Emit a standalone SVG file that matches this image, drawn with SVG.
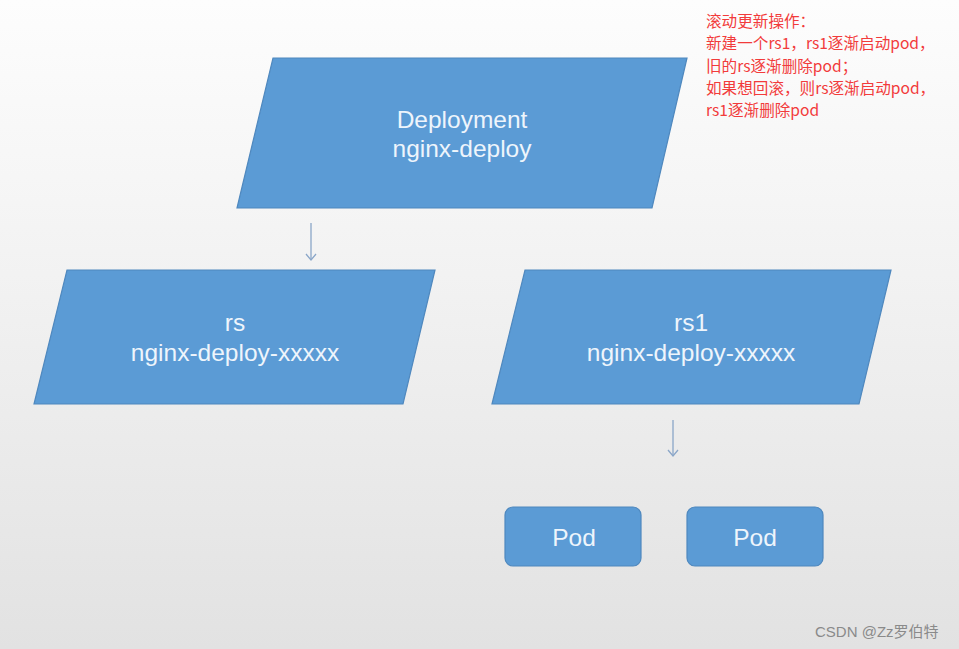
<svg xmlns="http://www.w3.org/2000/svg" width="959" height="649" viewBox="0 0 959 649">
<defs>
<linearGradient id="bg" x1="0" y1="0" x2="0" y2="1">
<stop offset="0" stop-color="#fdfdfd"/>
<stop offset="0.35" stop-color="#f4f4f4"/>
<stop offset="1" stop-color="#e2e2e2"/>
</linearGradient>
<marker id="ah" viewBox="0 0 12 12" refX="10" refY="6" markerWidth="12" markerHeight="12" markerUnits="userSpaceOnUse" orient="auto">
<path d="M4,1 L10,6 L4,11" fill="none" stroke="#8aa6c8" stroke-width="1.3"/>
</marker>
<style>
.shape{fill:#5b9bd5;stroke:#4f88be;stroke-width:1.2}
.lbl{font-family:"Liberation Sans",Arial,sans-serif;font-size:24.5px;fill:#eef5fc;text-anchor:middle}
.conn{stroke:#8aa6c8;stroke-width:1.3;fill:none}
.note{font-family:"Noto Sans CJK SC","Liberation Sans",sans-serif;font-size:15.6px;fill:#f23b3b}
.wm{font-family:"Liberation Sans","Noto Sans CJK SC",sans-serif;font-size:15px;fill:#8a8a8a}
</style>
</defs>
<rect width="959" height="649" fill="url(#bg)"/>
<g id="connectors">
<path class="conn" d="M311,223 L311,260" marker-end="url(#ah)"/>
<path class="conn" d="M673,420 L673,456" marker-end="url(#ah)"/>
</g>
<g id="deployment">
<polygon class="shape" points="273,58 687,58 652,208 237,208"/>
<text class="lbl" x="462" y="128">Deployment</text>
<text class="lbl" x="462" y="157">nginx-deploy</text>
</g>
<g id="rs">
<polygon class="shape" points="67,270 435,270 403,404 34,404"/>
<text class="lbl" x="235" y="331">rs</text>
<text class="lbl" x="235" y="361">nginx-deploy-xxxxx</text>
</g>
<g id="rs1">
<polygon class="shape" points="525,270 891,270 859,404 492,404"/>
<text class="lbl" x="691" y="331">rs1</text>
<text class="lbl" x="691" y="361">nginx-deploy-xxxxx</text>
</g>
<g id="pod1">
<rect class="shape" x="505" y="507" width="136" height="59" rx="8"/>
<text class="lbl" x="574" y="546">Pod</text>
</g>
<g id="pod2">
<rect class="shape" x="687" y="507" width="136" height="59" rx="8"/>
<text class="lbl" x="755" y="546">Pod</text>
</g>
<g id="note">
<text class="note" x="706" y="27">滚动更新操作：</text>
<text class="note" x="706" y="49">新建一个rs1，rs1逐渐启动pod，</text>
<text class="note" x="706" y="72">旧的rs逐渐删除pod；</text>
<text class="note" x="706" y="94">如果想回滚，则rs逐渐启动pod，</text>
<text class="note" x="706" y="116">rs1逐渐删除pod</text>
</g>
<text class="wm" x="815" y="637">CSDN @Zz罗伯特</text>
</svg>
